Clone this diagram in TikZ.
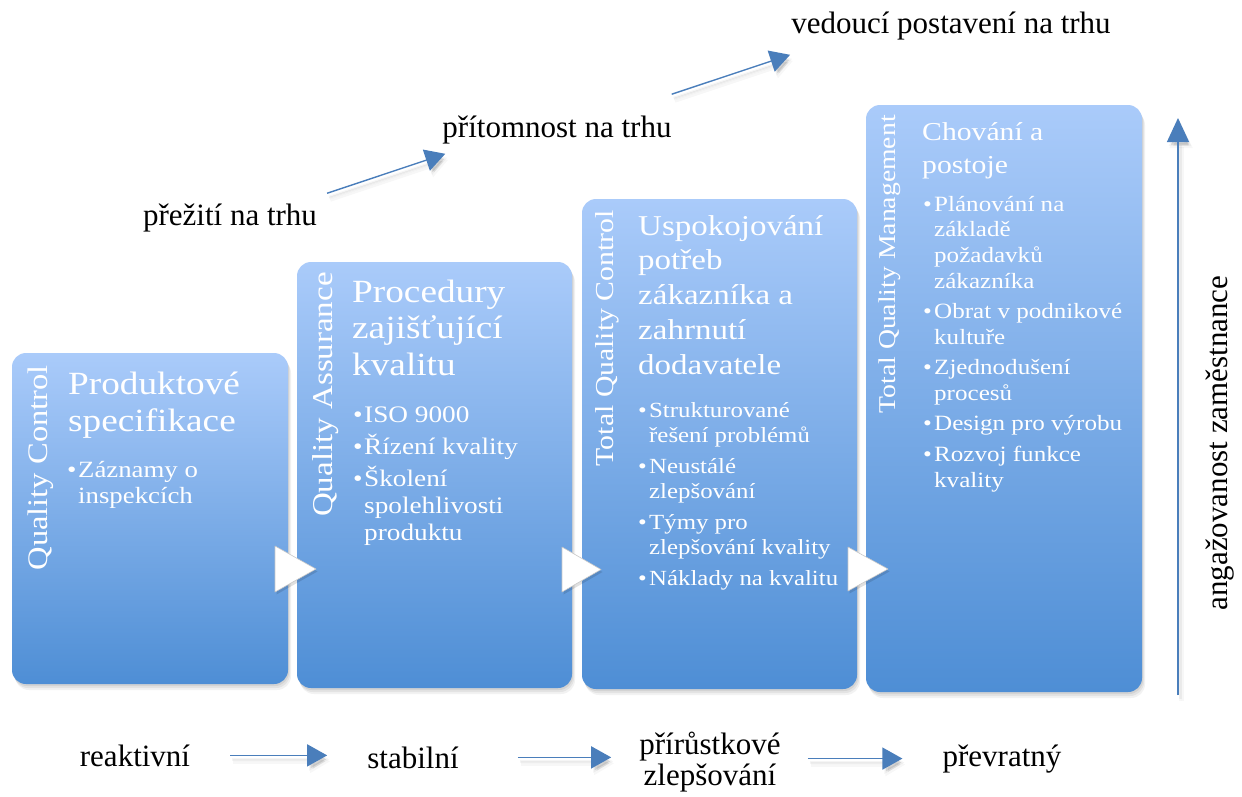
\documentclass[tikz,border=0pt]{standalone}
\usepackage{fontspec}
\setmainfont{Liberation Serif}
\newfontfamily\boxfont{Liberation Serif}[FakeStretch=1.15]
\usetikzlibrary{arrows.meta,calc}

\definecolor{boxtop}{HTML}{AACBFA}
\definecolor{boxbot}{HTML}{4E8ED5}
\definecolor{arrowblue}{HTML}{4A7EBB}

\newlength\bulind
\setlength\bulind{11pt}
% one bulleted item with hanging indent; \\ breaks lines inside it
\newcommand\bitem[1]{\par\hangindent=\bulind\hangafter=1\noindent\hbox to\bulind{\textbullet\hss}#1\par}
% a block of text whose baseline is the baseline of its first line
\newcommand\textblock[4]{\vtop{\hsize=280pt\parindent=0pt\parskip=#3\relax\fontsize{#1}{#2}\selectfont #4}}

\begin{document}
\begin{tikzpicture}[x=1pt, y=-1pt,
  stage/.style={rounded corners=14pt, top color=boxtop, bottom color=boxbot,
    inner sep=0pt, draw=none,
    preaction={fill=black, fill opacity=0.07, transform canvas={xshift=1pt, yshift=-2pt}},
    preaction={fill=black, fill opacity=0.06, transform canvas={xshift=2pt, yshift=-4pt}},
    preaction={fill=black, fill opacity=0.05, transform canvas={xshift=3pt, yshift=-6pt}}},
  vlab/.style={text=white, inner sep=0pt, rotate=90, anchor=base east, font=\boxfont},
  ttl/.style={text=white, inner sep=0pt, anchor=base west, font=\boxfont},
  tri/.style={fill=white, draw=black!22, line width=0.6pt, line join=round,
    preaction={fill=black, fill opacity=0.12, transform canvas={xshift=1.5pt, yshift=-2.5pt}}},
  lab/.style={inner sep=0pt, anchor=base, font=\fontsize{31}{31}\selectfont},
  arr/.style={draw=arrowblue, line width=1.4pt,
    -{Triangle[length=20pt, width=22pt]},
    preaction={draw=black, fill=black, draw opacity=0.04, fill opacity=0.10, line width=3pt,
      transform canvas={xshift=2pt, yshift=-4pt}},
    preaction={draw=black, fill=black, draw opacity=0.03, fill opacity=0.07, line width=5pt,
      transform canvas={xshift=3pt, yshift=-6pt}}},
]
\useasboundingbox (0,0) rectangle (1242,796);
\fill[white] (0,0) rectangle (1242,796);

% the four stages
\node[stage, minimum width=276, minimum height=331] (b1) at (150,518.5) {};
\node[stage, minimum width=275, minimum height=426] (b2) at (434.5,475) {};
\node[stage, minimum width=275, minimum height=490] (b3) at (719.5,444) {};
\node[stage, minimum width=276, minimum height=587] (b4) at (1004,398.5) {};

% white step markers between the stages
\filldraw[tri] (275,546) -- (316,569) -- (275,592) -- cycle;
\filldraw[tri] (562,547) -- (601,569.5) -- (562,592) -- cycle;
\filldraw[tri] (848,547) -- (888,569) -- (848,591) -- cycle;

% vertical stage names
\node[vlab, font=\boxfont\fontsize{28.3}{30}\selectfont] (v1) at (47,365) {Quality Control};
\node[vlab, font=\boxfont\fontsize{28.7}{30}\selectfont] (v2) at (332,272) {Quality Assurance};
\node[vlab, font=\boxfont\fontsize{25.9}{28}\selectfont] (v3) at (613,210) {Total Quality Control};
\node[vlab, font=\boxfont\fontsize{24.1}{26}\selectfont] (v4) at (895,115) {Total Quality Management};

% stage headings
\node[ttl] (t1) at (68,394) {\textblock{32.4}{37}{0pt}{Produktové\\specifikace}};
\node[ttl] (t2) at (352,302) {\textblock{32.4}{36.5}{0pt}{Procedury\\zajišťující\\kvalitu}};
\node[ttl] (t3) at (638,235) {\textblock{28.7}{34.75}{0pt}{Uspokojování\\potřeb\\zákazníka a\\zahrnutí\\dodavatele}};
\node[ttl] (t4) at (922,140) {\textblock{25.8}{33}{0pt}{Chování a\\postoje}};

% stage contents
\node[ttl] (l1) at (67,477) {\textblock{23.3}{26}{0pt}{\bitem{Záznamy o\\inspekcích}}};
\node[ttl] (l2) at (353,422) {\textblock{23.7}{27}{5pt}{\bitem{ISO 9000}\bitem{Řízení kvality}\bitem{Školení\\spolehlivosti\\produktu}}};
\node[ttl] (l3) at (638,417) {\textblock{21.6}{25}{6pt}{\bitem{Strukturované\\řešení problémů}\bitem{Neustálé\\zlepšování}\bitem{Týmy pro\\zlepšování kvality}\bitem{Náklady na kvalitu}}};
\node[ttl] (l4) at (923,211) {\textblock{21.8}{25.8}{4.5pt}{\bitem{Plánování na\\základě\\požadavků\\zákazníka}\bitem{Obrat v podnikové\\kultuře}\bitem{Zjednodušení\\procesů}\bitem{Design pro výrobu}\bitem{Rozvoj funkce\\kvality}}};

% market position
\node[lab] (prez) at (230,225) {přežití na trhu};
\node[lab] (prit) at (557,137) {přítomnost na trhu};
\node[lab] (ved) at (951,33) {vedoucí postavení na trhu};
\draw[arr] ($(prez.north east)+(10,-10)$) -- ($(prit.south west)+(3,10)$);
\draw[arr] ($(prit.north east)+(0,-21)$) -- ($(ved.south west)+(-1,15)$);

% kind of improvement
\node[lab] (reak) at (135,766) {reaktivní};
\node[lab] (stab) at (413,768) {stabilní};
\node[lab] (prir) at (710,754) {\begin{tabular}[t]{@{}c@{}}přírůstkové\\zlepšování\end{tabular}};
\node[lab] (prev) at (1002,766) {převratný};
\draw[arr, shorten <=40pt, shorten >=40pt] (reak.east) -- (reak.east -| stab.west);
\draw[arr, shorten <=59pt, shorten >=28pt] (stab.east) -- (stab.east -| prir.west);
\draw[arr, shorten <=27pt, shorten >=40pt] (prev.west -| prir.east) -- (prev.west);

% employee involvement
\coordinate (axb) at (1178,695);
\coordinate (axt) at (1178,118);
\draw[arr, -{Triangle[length=24pt, width=22pt]}] (axb) -- (axt);
\node[lab, rotate=90] (ang) at (1227,443) {angažovanost zaměstnance};
\end{tikzpicture}
\end{document}
